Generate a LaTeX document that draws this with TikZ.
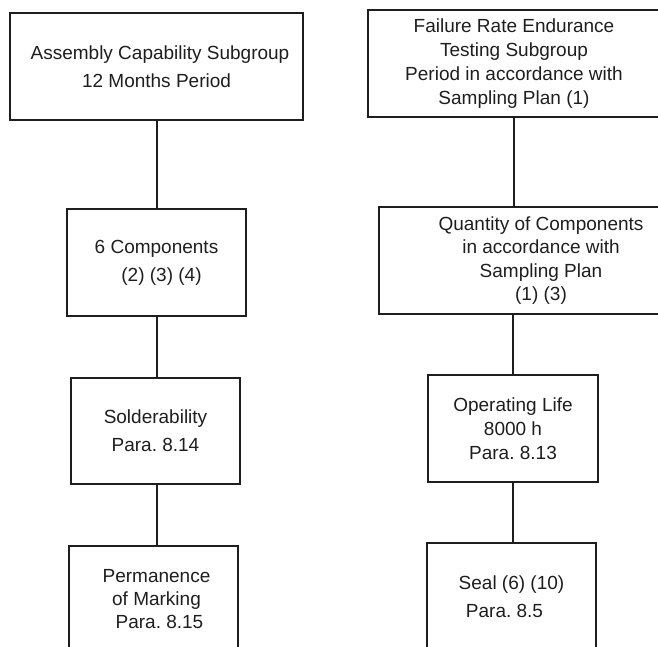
\documentclass[tikz,border=0pt]{standalone}
\usepackage{fontspec}
\setmainfont{Liberation Sans}
\frenchspacing
\definecolor{inkline}{RGB}{30, 30, 30}

\begin{document}
\begin{tikzpicture}[x=1pt, y=-1pt,
    box/.style={draw=inkline, line width=2pt, align=center, inner sep=0pt,
        font=\fontsize{19}{24}\selectfont, text=inkline},
    wide/.style={font=\fontsize{19}{28}\selectfont},
    link/.style={draw=inkline, line width=2pt}]
                \useasboundingbox (0,0) rectangle (658,646);

                % Assembly capability column
                \node[box, wide, minimum width=293pt, minimum height=107pt] (asm) at (156.5, 66.5)
                    {\hspace*{7pt}Assembly Capability Subgroup\\12 Months Period};
                \node[box, wide, minimum width=179pt, minimum height=107pt] (six) at (156.5, 262.5)
                    {6 Components\\\hspace*{10pt}(2) (3) (4)};
                \node[box, wide, minimum width=169pt, minimum height=106pt] (solder) at (155.5, 431)
                    {Solderability\\Para. 8.14};
                \node[box, font=\fontsize{19}{23}\selectfont, minimum width=169pt, minimum height=107pt] (marking) at (153.5, 599.5)
                    {\hspace*{6pt}Permanence\\\hspace*{6pt}of Marking\\\hspace*{12pt}Para. 8.15};

                % Failure rate column
                \node[box, minimum width=292pt, minimum height=107pt] (failure) at (514, 63.5)
                    {Failure Rate Endurance\\Testing Subgroup\\Period in accordance with\\Sampling Plan (1)};
                \node[box, font=\fontsize{19}{23.5}\selectfont, minimum width=324pt, minimum height=107pt] (qty) at (541, 260.5)
                    {Quantity of Components\\in accordance with\\Sampling Plan\\(1) (3)};
                \node[box, minimum width=170pt, minimum height=107pt] (oplife) at (513, 428.5)
                    {Operating Life\\8000 h\\Para. 8.13};
                \node[box, wide, minimum width=169pt, minimum height=107pt] (seal) at (511.5, 596.5)
                    {Seal (6) (10)\\\hspace*{-14pt}Para. 8.5};

                % Connectors
                \draw[link] (asm.south) -- (six.north);
                \draw[link] (six.south) -- (six.south |- solder.north);
                \draw[link] (six.south |- solder.south) -- (six.south |- marking.north);
                \draw[link] (failure.south) -- (failure.south |- qty.north);
                \draw[link] (oplife.north |- qty.south) -- (oplife.north);
                \draw[link] (oplife.south) -- (oplife.south |- seal.north);
\end{tikzpicture}
\end{document}
